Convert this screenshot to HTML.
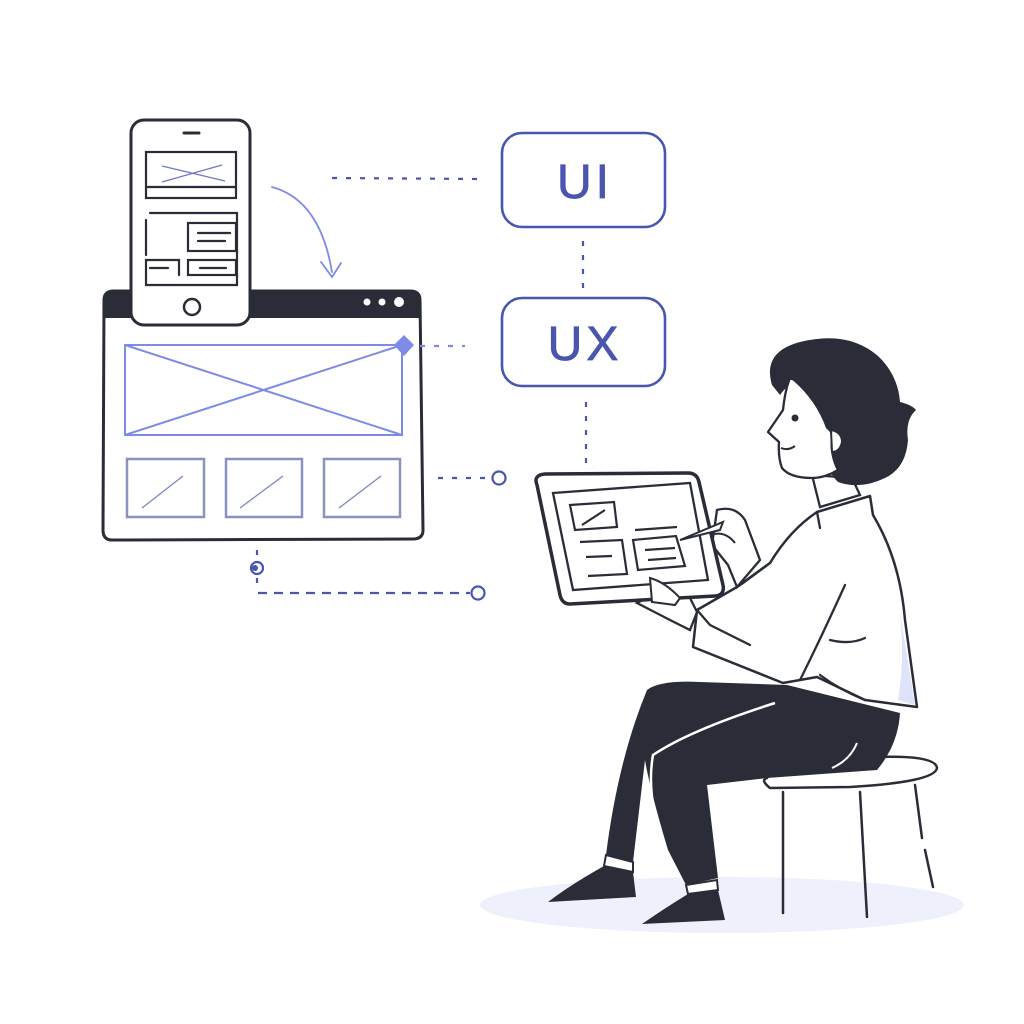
<!DOCTYPE html>
<html><head><meta charset="utf-8"><style>html,body{margin:0;padding:0;background:#fff}svg{display:block}</style></head>
<body>
<svg width="1024" height="1024" viewBox="0 0 1024 1024" xmlns="http://www.w3.org/2000/svg">
<rect width="1024" height="1024" fill="#fff"/>
<ellipse cx="722" cy="905" rx="242" ry="28" fill="#eef0fb"/>

<g fill="none" stroke="#2a2d38" stroke-width="3" stroke-linecap="round" stroke-linejoin="round">
<path d="M104 300 Q104 291 114 291 L410 291 Q420 291 420 300 L423 530 Q423 539 413 539 L112 540 Q103 540 103 530 Z" fill="#fff"/>
</g>
<path d="M104 300 Q104 291 114 291 L410 291 Q420 291 420 300 L420 318 L104 318 Z" fill="#2a2d38"/>
<circle cx="367" cy="302" r="3.5" fill="#fff"/><circle cx="382" cy="302" r="3.5" fill="#fff"/><circle cx="399" cy="302" r="5" fill="#fff"/>
<g fill="none" stroke="#7d8ae6" stroke-width="2">
<rect x="125" y="345" width="277" height="90"/>
<line x1="125" y1="345" x2="402" y2="435"/><line x1="125" y1="435" x2="402" y2="345"/>
</g>
<path d="M404 335 L414 345 L404 356 L394 345 Z" fill="#7d8ae6"/>
<g fill="none" stroke="#8a92c0" stroke-width="2.5">
<rect x="127" y="459" width="77" height="58"/><rect x="226" y="459" width="76" height="58"/><rect x="324" y="459" width="76" height="58"/>
</g>
<g stroke="#7d86c4" stroke-width="1.3"><line x1="142" y1="508" x2="183" y2="476"/><line x1="240" y1="508" x2="283" y2="476"/><line x1="339" y1="508" x2="381" y2="476"/></g>

<g fill="none" stroke="#2a2d38" stroke-width="3" stroke-linecap="round">
<rect x="131" y="120" width="119" height="205" rx="13" fill="#fff"/>
<line x1="184" y1="133" x2="199" y2="133"/>
<circle cx="192" cy="307" r="8" stroke-width="2.5"/>
<g stroke-width="2.2">
<rect x="146" y="152" width="90" height="46"/><line x1="146" y1="187" x2="236" y2="187"/>
<path d="M150 213 L237 213 L237 285 L146 285 L146 260 L179 260 L179 275"/>
<line x1="146" y1="220" x2="146" y2="255"/>
<rect x="188" y="223" width="48" height="28"/>
<rect x="188" y="260" width="48" height="15"/>
<line x1="198" y1="233" x2="230" y2="233"/><line x1="198" y1="241" x2="225" y2="241"/>
<line x1="150" y1="268" x2="168" y2="268"/><line x1="200" y1="268" x2="226" y2="268"/>
</g>
</g>
<g stroke="#6e78c8" stroke-width="1.3"><line x1="162" y1="166" x2="225" y2="181"/><line x1="162" y1="182" x2="222" y2="165"/></g>

<g fill="none" stroke="#7d8ae6" stroke-width="1.8" stroke-linecap="round">
<path d="M272 187 Q320 200 332 272"/><path d="M321 262 L332 277 L341 263"/>
</g>

<g fill="none" stroke="#4a55b0" stroke-width="2.2" stroke-dasharray="5 9">
<line x1="332" y1="178" x2="480" y2="179"/>
<line x1="583" y1="241" x2="583" y2="290"/>
<line x1="586" y1="402" x2="586" y2="470"/>
<line x1="420" y1="346" x2="465" y2="346" stroke="#7d8ae6"/>
<line x1="438" y1="478" x2="490" y2="478"/>
<line x1="258" y1="593" x2="470" y2="593" stroke-dasharray="9 7"/>
<line x1="257" y1="550" x2="257" y2="558"/><line x1="257" y1="578" x2="257" y2="592"/>
</g>
<g fill="none" stroke="#4a55b0" stroke-width="2.2">
<circle cx="499" cy="478" r="6.5"/><circle cx="478" cy="593" r="6.5"/><circle cx="257" cy="568" r="6"/>
</g>
<circle cx="255" cy="568" r="3" fill="#4a55b0"/>

<g fill="#fff" stroke="#4a55b0" stroke-width="2.6">
<rect x="502" y="133" width="163" height="94" rx="20"/>
<rect x="502" y="298" width="163" height="88" rx="20"/>
</g>
<g font-family="Liberation Sans, sans-serif" font-size="48" fill="#4a55b0" stroke="#4a55b0" stroke-width="0.8" text-anchor="middle" letter-spacing="4">
<text x="585" y="198">UI</text>
<text x="585" y="360">UX</text>
</g>

<path d="M647 690 Q660 680 700 682 L787 685 L900 713 Q898 745 877 770 L767 778 L707 785 L718 878 L686 885 L668 850 Q650 790 645 760 L633 862 L606 855 Q618 760 647 690 Z" fill="#2a2d38"/>
<path d="M775 703 Q690 730 653 755 Q645 800 668 855" fill="none" stroke="#fff" stroke-width="2.5"/>
<path d="M857 743 Q850 760 832 768" fill="none" stroke="#fff" stroke-width="2"/>
<path d="M606 855 L633 862 L633 872 L604 866 Z" fill="#fff" stroke="#2a2d38" stroke-width="2"/>
<path d="M604 866 L633 872 L636 897 L548 902 Q570 885 604 866 Z" fill="#2a2d38"/>
<path d="M686 885 L717 880 L718 890 L688 894 Z" fill="#fff" stroke="#2a2d38" stroke-width="2"/>
<path d="M688 894 L718 890 L725 920 L642 924 Q665 908 688 894 Z" fill="#2a2d38"/>
<g fill="none" stroke="#2a2d38" stroke-width="2.5" stroke-linecap="round">
<path d="M877 757 Q936 755 937 768 Q935 782 850 787 L770 788 Q760 780 767 778"/>
<line x1="783" y1="792" x2="783" y2="913"/><line x1="860" y1="792" x2="867" y2="917"/>
<path d="M915 785 L922 838 M925 850 L933 887"/>
</g>
<path d="M817 512 L870 496 L873 515 Q900 560 905 620 L917 707 L865 700 L817 677 L783 683 L693 647 L697 610 L737 587 L770 563 Q790 530 817 512 Z" fill="#fff" stroke="#2a2d38" stroke-width="2.5" stroke-linejoin="round"/>
<path d="M900 613 L915 705 L898 700 Q905 660 900 613 Z" fill="#dfe3fa"/>
<g fill="none" stroke="#2a2d38" stroke-width="2.3" stroke-linecap="round">
<path d="M817 512 L820 528"/><path d="M865 700 Q840 690 820 675"/>
<path d="M845 585 Q820 640 800 680"/><path d="M830 640 Q850 645 865 638"/>
<path d="M770 563 L743 583 L737 587"/>
<path d="M697 610 L710 625 L750 645"/>
</g>
<path d="M717 510 Q735 505 745 520 L760 560 L737 587 L728 565 L712 545 Z" fill="#fff" stroke="#2a2d38" stroke-width="2.3"/>
<path d="M637 603 Q660 590 690 598 L697 612 L690 630 L670 620 Z" fill="#fff" stroke="#2a2d38" stroke-width="2.3"/>
<path d="M812 475 L820 507 L860 495 L852 478 Z" fill="#fff" stroke="#2a2d38" stroke-width="2.3"/>
<!-- hair -->
<path d="M772 385 Q762 352 800 342 Q848 330 878 356 Q898 375 900 402 Q912 405 916 410 Q905 420 908 440 Q906 468 885 478 Q860 490 838 482 Q825 470 830 452 L805 385 Q790 380 780 395 Z" fill="#2a2d38"/>
<!-- face -->
<path d="M790 378 Q800 382 812 388 Q825 410 832 435 Q830 455 838 470 Q825 478 812 478 Q790 478 782 468 Q778 458 779 442 L768 432 L783 410 Q785 390 790 378 Z" fill="#fff" stroke="#2a2d38" stroke-width="2.3" stroke-linejoin="round"/>
<path d="M790 378 Q810 372 830 395 Q835 420 838 440 L826 428 Q815 398 790 378 Z" fill="#2a2d38"/>
<circle cx="795" cy="418" r="3.5" fill="#2a2d38"/>
<path d="M781 448 Q788 451 795 446" fill="none" stroke="#2a2d38" stroke-width="2"/>
<path d="M831 430 Q842 432 842 442 Q840 452 832 452 Z" fill="#fff" stroke="#2a2d38" stroke-width="2"/>
<path d="M537 485 Q533 475 545 474 L688 473 Q697 473 699 482 L723 585 Q725 595 715 596 L570 604 Q562 604 560 595 Z" fill="#fff" stroke="#2a2d38" stroke-width="3.5" stroke-linejoin="round"/>
<path d="M553 493 L690 483 L708 580 L573 590 Z" fill="#fff" stroke="#2a2d38" stroke-width="2.3"/>
<g fill="none" stroke="#2a2d38" stroke-width="2.2">
<path d="M570 505 L614 502 L617 527 L575 530 Z"/>
<line x1="582" y1="525" x2="605" y2="510"/>
<path d="M580 542 L622 540 L627 574 L588 576"/>
<path d="M635 530 L677 527"/>
<path d="M633 540 L676 536 L685 566 L638 570 Z"/>
<line x1="586" y1="557" x2="612" y2="556"/><line x1="645" y1="550" x2="675" y2="548"/><line x1="648" y1="560" x2="676" y2="558"/>
</g>
<path d="M680 540 L723 522 L720 530 Z" fill="#fff" stroke="#2a2d38" stroke-width="2"/>
<path d="M710 535 Q725 530 735 543" fill="none" stroke="#2a2d38" stroke-width="2"/>
<path d="M650 578 Q665 582 680 598 L675 605 L652 602 Z" fill="#fff" stroke="#2a2d38" stroke-width="2"/>
</svg>
</body></html>
